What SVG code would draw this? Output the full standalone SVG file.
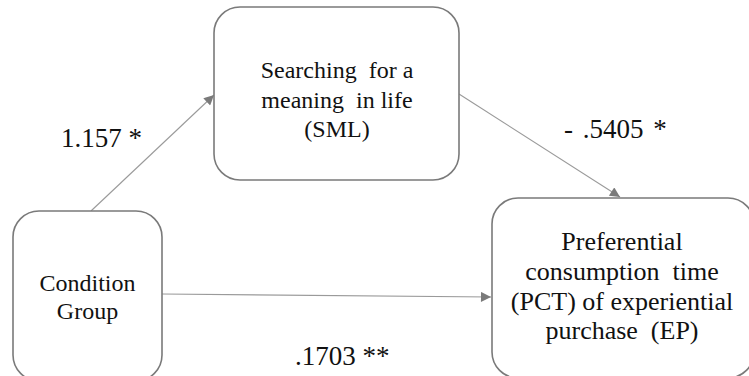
<svg xmlns="http://www.w3.org/2000/svg" width="749" height="376" viewBox="0 0 749 376">
<style>
.box{fill:#fff;stroke:#7a7a7a;stroke-width:1.6}
.t{font-size:24px;fill:#111;text-anchor:middle}
.t2{font-size:26px;fill:#111;text-anchor:middle}
.lbl{font-size:27px;fill:#111}
.edge{stroke:#9a9a9a;stroke-width:1.1;fill:none;marker-end:url(#ah)}
</style>
<defs>
<marker id="ah" viewBox="0 0 10 10" refX="10" refY="5" markerUnits="userSpaceOnUse" markerWidth="11" markerHeight="10" orient="auto">
<path d="M0,0 L10,5 L0,10 Z" fill="#7a7a7a"/>
</marker>
</defs>
<rect width="749" height="376" fill="#fff"/>
<g id="connectors">
<line class="edge" x1="91" y1="211" x2="214" y2="95"/>
<line class="edge" x1="459" y1="94" x2="620" y2="197"/>
<line class="edge" x1="162" y1="294" x2="491" y2="297"/>
</g>
<g font-family="Liberation Serif, Times New Roman, serif">
<g id="sml">
<rect class="box" x="214" y="7" width="245" height="173" rx="26"/>
<text class="t" x="337" y="78" xml:space="preserve">Searching  for a</text>
<text class="t" x="337" y="108" xml:space="preserve">meaning  in life</text>
<text class="t" x="337" y="137">(SML)</text>
</g>
<g id="condition">
<rect class="box" x="13" y="211" width="149" height="170" rx="26"/>
<text class="t" x="87.5" y="291">Condition</text>
<text class="t" x="87.5" y="319">Group</text>
</g>
<g id="pct">
<rect class="box" x="492" y="198" width="262" height="180" rx="26"/>
<text class="t2" x="622" y="250">Preferential</text>
<text class="t2" x="622" y="280" xml:space="preserve">consumption  time</text>
<text class="t2" x="622" y="310">(PCT) of experiential</text>
<text class="t2" x="622" y="339" xml:space="preserve">purchase  (EP)</text>
</g>
<g id="labels">
<text class="lbl" x="61" y="147">1.157 *</text>
<text class="lbl" x="564" y="138" word-spacing="3">- .5405 *</text>
<text class="lbl" x="295" y="365">.1703 **</text>
</g>
</g>
</svg>
